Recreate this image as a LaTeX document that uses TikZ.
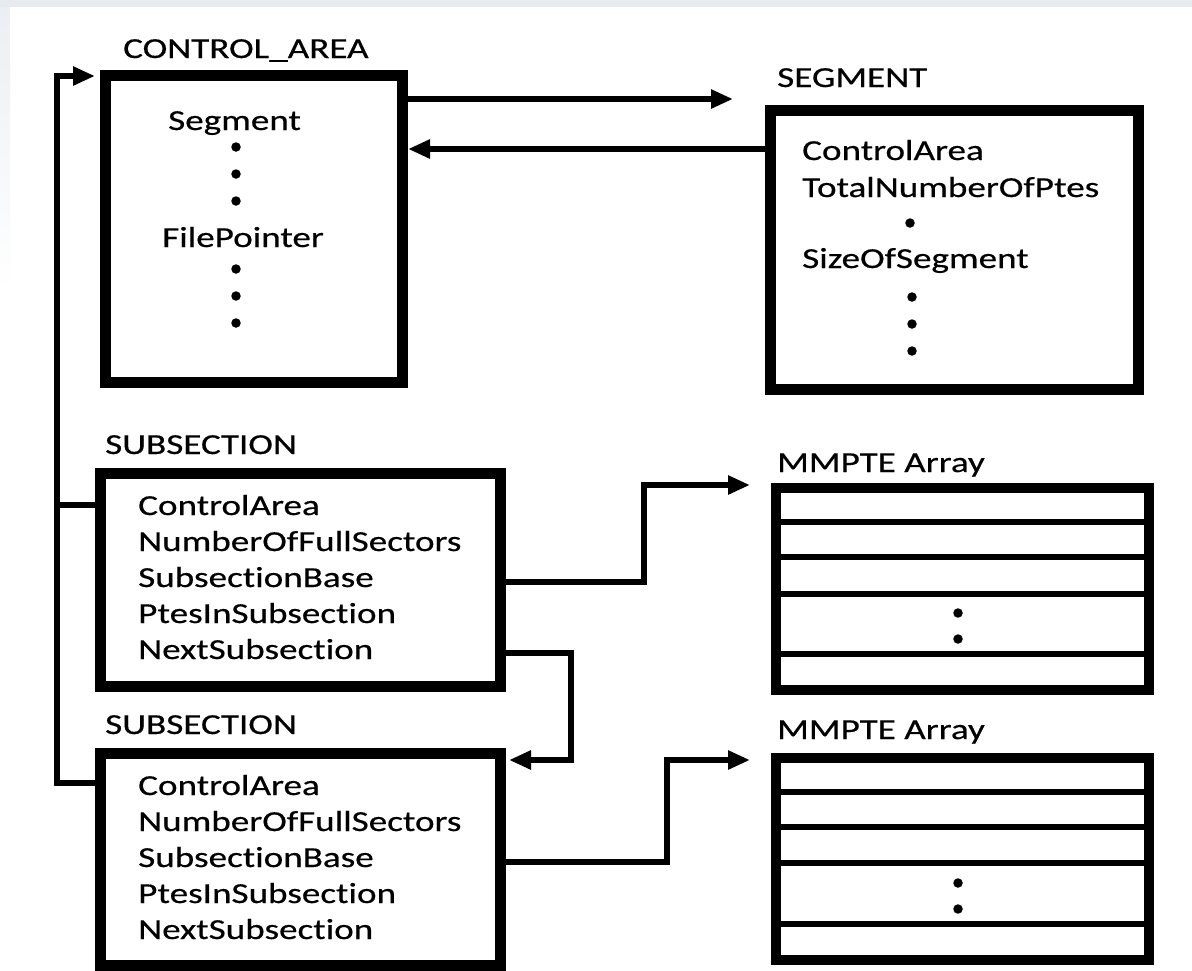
\documentclass[tikz,border=0pt]{standalone}
\usepackage{fontspec}
\setmainfont[FakeStretch=1.28, FakeBold=0.5, Ligatures=NoCommon]{Carlito}
\usetikzlibrary{arrows.meta}
\definecolor{bgband}{RGB}{230,235,240}
\begin{document}
\begin{tikzpicture}[x=1pt,y=-1pt,
  bigbox/.style={draw=black, line width=11pt, rectangle, inner sep=0pt, fill=white},
  arrbox/.style={draw=black, line width=10pt, rectangle, inner sep=0pt, fill=white},
  txt/.style={anchor=base west, inner sep=0pt, font=\fontsize{29}{35}\selectfont},
  dot/.style={circle, fill=black, inner sep=0pt, minimum size=9.5pt},
  conn/.style={draw=black, line width=6pt},
  arr/.style={conn, -{Triangle[length=22pt,width=18pt]}},
  rowline/.style={draw=black, line width=6pt}
]
\useasboundingbox (0,0) rectangle (1192,970);
\fill[white] (0,0) rectangle (1192,970);
\fill[bgband] (0,0) rectangle (1192,7);
\shade[top color=bgband!80, bottom color=white] (0,7) rectangle (10,290);

% boxes
\node[bigbox, minimum width=297pt, minimum height=307pt] (ca) at (254,229) {};
\node[bigbox, minimum width=368pt, minimum height=279pt] (seg) at (954.5,250) {};
\node[bigbox, minimum width=400pt, minimum height=213pt] (sub1) at (300.5,580) {};
\node[bigbox, minimum width=400pt, minimum height=212pt] (sub2) at (300.5,859.5) {};
\node[arrbox, minimum width=373pt, minimum height=202pt] (mm1) at (962.5,589) {};
\node[arrbox, minimum width=373pt, minimum height=202pt] (mm2) at (962.5,859) {};

% MMPTE rows
\foreach \yy in {522,557,594,654}{
  \draw[rowline] (mm1.west |- 0,\yy) -- (mm1.east |- 0,\yy);
}
\foreach \yy in {792,827,863,924}{
  \draw[rowline] (mm2.west |- 0,\yy) -- (mm2.east |- 0,\yy);
}

% titles
\node[txt] (tca) at (123,58) {CONTROL\_AREA};
\node[txt] (tseg) at (777,87) {SEGMENT};
\node[txt] (tsub1) at (105,454) {SUBSECTION};
\node[txt] (tsub2) at (105,734) {SUBSECTION};
\node[txt] (tmm1) at (777,472) {MMPTE Array};
\node[txt] (tmm2) at (777,739) {MMPTE Array};

% CONTROL_AREA contents
\node[txt] (caSeg) at (168,130) {Segment};
\node[txt] (caFp) at (162,247) {FilePointer};
\node[dot] (cad1) at (236,147) {};
\node[dot] (cad2) at (236,174) {};
\node[dot] (cad3) at (236,201) {};
\node[dot] (cad4) at (236,269) {};
\node[dot] (cad5) at (236,296) {};
\node[dot] (cad6) at (236,323) {};

% SEGMENT contents
\node[txt] (sgCa) at (802,160) {ControlArea};
\node[txt] (sgTot) at (802,197) {TotalNumberOfPtes};
\node[txt] (sgSize) at (802,268) {SizeOfSegment};
\node[dot] (sgd1) at (910,223) {};
\node[dot] (sgd2) at (912,297) {};
\node[dot] (sgd3) at (912,324) {};
\node[dot] (sgd4) at (912,351) {};

% SUBSECTION contents
\node[txt] (s1a) at (138,515) {ControlArea};
\node[txt] (s1b) at (138,551) {NumberOfFullSectors};
\node[txt] (s1c) at (138,587) {SubsectionBase};
\node[txt] (s1d) at (138,623) {PtesInSubsection};
\node[txt] (s1e) at (138,659) {NextSubsection};
\node[txt] (s2a) at (138,795) {ControlArea};
\node[txt] (s2b) at (138,831) {NumberOfFullSectors};
\node[txt] (s2c) at (138,867) {SubsectionBase};
\node[txt] (s2d) at (138,903) {PtesInSubsection};
\node[txt] (s2e) at (138,939) {NextSubsection};

% MMPTE dots
\node[dot] (m1d1) at (958,613) {};
\node[dot] (m1d2) at (958,639) {};
\node[dot] (m2d1) at (958,883) {};
\node[dot] (m2d2) at (958,909) {};

% connectors
\coordinate (segIn) at (733,99);
\coordinate (loopTop) at (57,76);
\coordinate (j1) at (644,485);
\coordinate (j2) at (571,760);
\coordinate (j3) at (667,760);

\draw[arr] (ca.east |- 0,99) -- (segIn);
\draw[arr] (seg.west |- 0,149) -- (ca.east |- 0,149);
\draw[arr, shorten >=5pt] (sub2.west |- 0,783) -| (loopTop) -- (ca.west |- 0,76);
\draw[conn] (sub1.west |- 0,505) -- (57,505);
\draw[arr, shorten >=21pt] (sub1.east |- 0,582) -| (j1) -- (mm1.west |- 0,485);
\draw[arr, shorten >=3pt] (sub1.east |- 0,653) -| (j2) -- (sub2.east |- 0,760);
\draw[arr, shorten >=21pt] (sub2.east |- 0,862) -| (j3) -- (mm2.west |- 0,760);
\end{tikzpicture}
\end{document}
